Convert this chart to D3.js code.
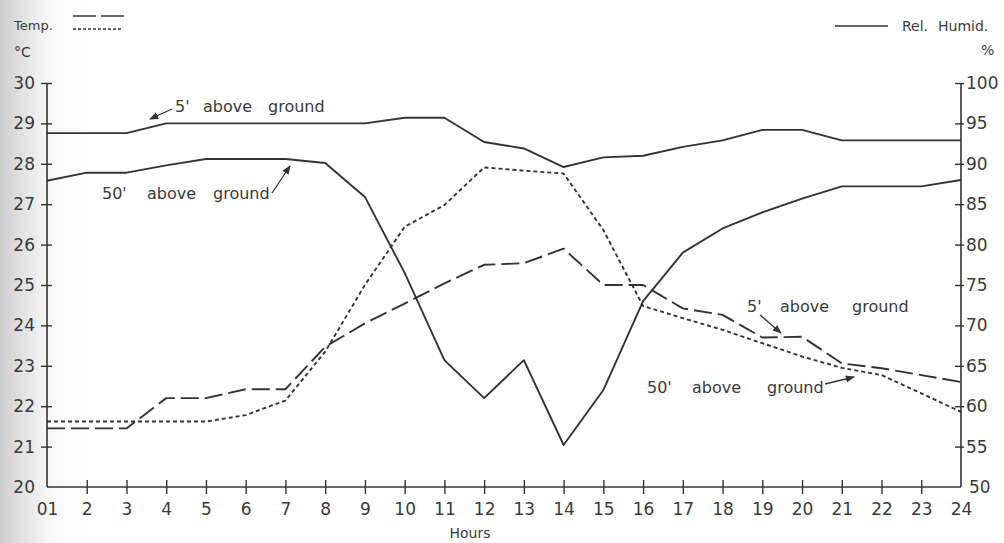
<!DOCTYPE html>
<html>
<head>
<meta charset="utf-8">
<script src="https://cdn.jsdelivr.net/npm/d3@7"></script>
<style>
  body { margin: 0; background: #fff; }
  svg text { font-family: "DejaVu Sans", sans-serif; fill: #3a3a3a; }
</style>
</head>
<body>
<div id="chart-area"></div>
<script>
// hours 01..24
var hours = d3.range(1, 25);
var hourLabels = ["01","2","3","4","5","6","7","8","9","10","11","12","13","14","15","16","17","18","19","20","21","22","23","24"];

// relative humidity (%), right axis
var rh5 = [93.8,93.8,93.8,95,95,95,95,95,95,95.7,95.7,92.7,91.9,89.6,90.8,91,92.1,92.9,94.2,94.2,92.9,92.9,92.9,92.9];
var rh50 = [87.9,88.9,88.9,89.8,90.6,90.6,90.6,90.1,85.9,76.5,65.7,61,65.7,55.2,62,73,79,82,84,85.7,87.2,87.2,87.2,88];

// temperature (°C), left axis
var temp5 = [21.45,21.45,21.45,22.2,22.2,22.42,22.42,23.47,24.05,24.54,25.04,25.5,25.54,25.9,25,25,24.42,24.26,23.7,23.72,23.06,22.94,22.77,22.6];
var temp50 = [21.62,21.62,21.62,21.62,21.62,21.78,22.14,23.35,25,26.44,26.98,27.91,27.83,27.76,26.36,24.48,24.18,23.89,23.56,23.23,22.95,22.77,22.32,21.86];

var tempTicks = d3.range(20, 31);
var rhTicks = d3.range(50, 101, 5);

var width = 1004, height = 543;
var ink = "#333";

var svg = d3.select("#chart-area").append("svg")
    .attr("width", width)
    .attr("height", height);

// scanned-page shading on the left edge
var defs = svg.append("defs");
var grad = defs.append("linearGradient")
    .attr("id", "edge").attr("x1", 0).attr("x2", 1);
grad.append("stop").attr("offset", 0).attr("stop-color", "#cdcdcd");
grad.append("stop").attr("offset", 0.025).attr("stop-color", "#e4e4e4");
grad.append("stop").attr("offset", 0.05).attr("stop-color", "#f8f8f8");
grad.append("stop").attr("offset", 0.09).attr("stop-color", "#fff");
svg.append("rect").attr("width", width).attr("height", height).attr("fill", "url(#edge)");

defs.append("marker")
    .attr("id", "arrow")
    .attr("viewBox", "0 0 10 10")
    .attr("refX", 9).attr("refY", 5)
    .attr("markerWidth", 7).attr("markerHeight", 7)
    .attr("orient", "auto")
  .append("path")
    .attr("d", "M0,1 L10,5 L0,9 Z")
    .attr("fill", ink);

var x = d3.scaleLinear().domain([1, 24]).range([47, 961]);
var yT = d3.scaleLinear().domain([20, 30]).range([487, 83]);
var yH = d3.scaleLinear().domain([50, 100]).range([487, 83]);

// axes
var xAxis = svg.append("g")
    .attr("transform", "translate(0," + yT(20) + ")")
    .call(d3.axisBottom(x).tickValues(hours)
        .tickFormat(function(d, i){ return hourLabels[i]; })
        .tickSize(7).tickPadding(9));
xAxis.selectAll(".tick line").attr("y1", -7);
xAxis.selectAll(".tick").filter(function(d){ return d == 1 || d == 24; }).select("line").remove();

var leftAxis = svg.append("g")
    .attr("transform", "translate(" + x(1) + ",0)")
    .call(d3.axisLeft(yT).tickValues(tempTicks).tickSize(6).tickPadding(6));
leftAxis.selectAll(".tick line").attr("x1", 5);
leftAxis.selectAll(".tick").filter(function(d){ return d == 20; }).select("line").remove();

var rightAxis = svg.append("g")
    .attr("transform", "translate(" + x(24) + ",0)")
    .call(d3.axisRight(yH).tickValues(rhTicks).tickSize(3).tickPadding(2));
rightAxis.selectAll(".tick line").attr("x1", -6);
rightAxis.selectAll(".tick").filter(function(d){ return d == 50; }).select("line").remove();
rightAxis.selectAll(".tick").filter(function(d){ return d == 50; }).select("text").attr("x", 8);

svg.selectAll(".tick line").attr("stroke", ink).attr("stroke-width", 1.4);
svg.selectAll(".tick text").attr("font-size", 17).attr("fill", "#3a3a3a")
    .attr("font-family", "DejaVu Sans, sans-serif");
// axis domain paths use outer ticks; redraw them as plain lines
svg.selectAll(".domain").remove();
svg.append("line").attr("x1", x(1)).attr("x2", x(24)).attr("y1", yT(20)).attr("y2", yT(20))
    .attr("stroke", ink).attr("stroke-width", 1.6);
svg.append("line").attr("x1", x(1)).attr("x2", x(1)).attr("y1", yT(20)).attr("y2", yT(30))
    .attr("stroke", ink).attr("stroke-width", 1.6);
svg.append("line").attr("x1", x(24)).attr("x2", x(24)).attr("y1", yT(20)).attr("y2", yT(30))
    .attr("stroke", ink).attr("stroke-width", 1.6);

// series
var series = [
    {values: rh5, y: yH, dash: null},
    {values: rh50, y: yH, dash: null},
    {values: temp5, y: yT, dash: "18,6"},
    {values: temp50, y: yT, dash: "4,3"}
];

series.forEach(function(s){
    var line = d3.line()
        .x(function(d, i){ return x(hours[i]); })
        .y(function(d){ return s.y(d); });
    svg.append("path")
        .datum(s.values)
        .attr("d", line)
        .attr("fill", "none")
        .attr("stroke", ink)
        .attr("stroke-width", 1.9)
        .attr("stroke-linejoin", "round")
        .attr("stroke-dasharray", s.dash);
});

// annotations: words placed with wide lettering gaps
function note(words, xs, ty, ax1, ay1, ax2, ay2){
    var t = svg.append("text").attr("y", ty).attr("font-size", 16);
    words.forEach(function(w, i){
        t.append("tspan").attr("x", xs[i]).text(w);
    });
    svg.append("line")
        .attr("x1", ax1).attr("y1", ay1).attr("x2", ax2).attr("y2", ay2)
        .attr("stroke", ink).attr("stroke-width", 1.3)
        .attr("marker-end", "url(#arrow)");
}
note(["5'", "above", "ground"], [175, 203, 268], 112, 172, 109, 150, 119);
note(["50'", "above", "ground"], [102, 147, 213], 199, 272, 193, 290, 166);
note(["5'", "above", "ground"], [747, 780, 852], 312, 760, 315, 781, 333);
note(["50'", "above", "ground"], [647, 692, 767], 393, 825, 384, 854, 377);

// legends
svg.append("text").attr("x", 14).attr("y", 30).attr("font-size", 13).text("Temp.");
svg.append("line").attr("x1", 73).attr("x2", 124).attr("y1", 16).attr("y2", 16)
    .attr("stroke", ink).attr("stroke-width", 1.6).attr("stroke-dasharray", "23,5");
svg.append("line").attr("x1", 73).attr("x2", 123).attr("y1", 29).attr("y2", 29)
    .attr("stroke", ink).attr("stroke-width", 1.6).attr("stroke-dasharray", "3,2");
svg.append("text").attr("x", 14).attr("y", 57).attr("font-size", 14).text("°C");

svg.append("line").attr("x1", 835).attr("x2", 888).attr("y1", 26).attr("y2", 26)
    .attr("stroke", ink).attr("stroke-width", 1.6);
var rel = svg.append("text").attr("y", 31).attr("font-size", 14);
rel.append("tspan").attr("x", 902).text("Rel.");
rel.append("tspan").attr("x", 938).text("Humid.");
svg.append("text").attr("x", 981).attr("y", 55).attr("font-size", 14).text("%");

svg.append("text").attr("x", 470).attr("y", 538).attr("font-size", 14)
    .attr("text-anchor", "middle").text("Hours");
</script>
</body>
</html>
